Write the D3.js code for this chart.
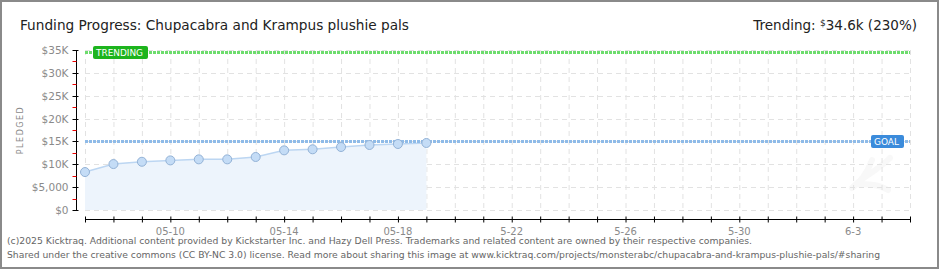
<!DOCTYPE html>
<html>
<head>
<meta charset="utf-8">
<script src="https://cdn.jsdelivr.net/npm/d3@7"></script>
<style>
body { margin:0; background:#fff; }
svg { display:block; }
text { font-family: "DejaVu Sans", sans-serif; }
</style>
</head>
<body>
<svg id="chart" width="940" height="270"></svg>
<script>
// pledge snapshots, one per day
var dates = ['2025-05-07','2025-05-08','2025-05-09','2025-05-10','2025-05-11','2025-05-12','2025-05-13',
	'2025-05-14','2025-05-15','2025-05-16','2025-05-17','2025-05-18','2025-05-19'];
var pledged = [8300, 10050, 10550, 10850, 11080, 11080, 11600, 13050, 13280, 13780, 14220, 14440, 14660];
var goal = 15000;
var trending = 34600;
var yTicks = [0, 5000, 10000, 15000, 20000, 25000, 30000, 35000];
var yTickLabels = ['$0', '$5,000', '$10K', '$15K', '$20K', '$25K', '$30K', '$35K'];
var xLabelDates = ['2025-05-10','2025-05-14','2025-05-18','2025-05-22','2025-05-26','2025-05-30','2025-06-03'];
var xLabels = ['05-10', '05-14', '05-18', '5-22', '5-26', '5-30', '6-3'];
var xStart = '2025-05-07', xEnd = '2025-06-05';

var parse = d3.utcParse('%Y-%m-%d');
var svg = d3.select('#chart');

// frame
svg.append('rect').attr('x', 1).attr('y', 1).attr('width', 937).attr('height', 267)
	.attr('fill', '#fff').attr('stroke', '#8a8a8a').attr('stroke-width', 2);

var x = d3.scaleUtc().domain([parse(xStart), parse(xEnd)]).range([85, 910]);
var y = d3.scaleLinear().domain([0, 35000]).range([210, 50]);

var days = d3.utcDay.range(parse(xStart), d3.utcDay.offset(parse(xEnd), 1));

// watermark (faint K)
svg.append('path').attr('d', 'M872,160 C866,176 858,184 852,188 M890,158 C878,170 862,178 856,184 C866,184 878,184 888,190')
	.attr('fill', 'none').attr('stroke', '#f8f8f8').attr('stroke-width', 6).attr('stroke-linecap', 'round');

// grid
var grid = svg.append('g').attr('stroke', '#e2e2e2').attr('stroke-dasharray', '5,4');
grid.selectAll('.vg').data(days).enter().append('line')
	.attr('x1', function(d){ return x(d) + 0.5; }).attr('x2', function(d){ return x(d) + 0.5; })
	.attr('y1', 50).attr('y2', 210);
grid.selectAll('.hg').data(yTicks).enter().append('line')
	.attr('x1', 85).attr('x2', 910)
	.attr('y1', function(d){ return Math.round(y(d)) + 0.5; }).attr('y2', function(d){ return Math.round(y(d)) + 0.5; });

// area + line
var pts = dates.map(function(d, i){ return { date: parse(d), v: pledged[i] }; });
svg.append('path').datum(pts)
	.attr('fill', '#edf4fc')
	.attr('d', d3.area().x(function(d){ return x(d.date); }).y0(y(0)).y1(function(d){ return y(d.v); }));
svg.append('path').datum(pts)
	.attr('fill', 'none').attr('stroke', '#bcd6f2').attr('stroke-width', 1.5)
	.attr('d', d3.line().x(function(d){ return x(d.date); }).y(function(d){ return y(d.v); }));

// goal and trending lines
function refLine(val, color) {
	svg.append('line').attr('x1', 85).attr('x2', 910)
		.attr('y1', Math.round(y(val)) + 0.5).attr('y2', Math.round(y(val)) + 0.5)
		.attr('stroke', color).attr('stroke-width', 3).attr('stroke-dasharray', '3,1');
}
refLine(goal, '#8fbbe8');
refLine(trending, '#6ddc6d');

// points
svg.selectAll('.pt').data(pts).enter().append('circle')
	.attr('cx', function(d){ return x(d.date); }).attr('cy', function(d){ return y(d.v); })
	.attr('r', 4.5).attr('fill', '#c4dcf6').attr('stroke', '#93b2d6').attr('stroke-width', 1);

// badges
function badge(bx, val, w, label, color) {
	var by = Math.round(y(val)) - 6;
	svg.append('rect').attr('x', bx).attr('y', by).attr('width', w).attr('height', 13)
		.attr('rx', 2).attr('fill', color);
	svg.append('text').attr('x', bx + 3).attr('y', by + 10).attr('fill', '#fff')
		.attr('font-size', 8.5).attr('textLength', w - 8).attr('lengthAdjust', 'spacingAndGlyphs')
		.text(label);
}
badge(93, trending, 55, 'TRENDING', '#1db41d');
badge(871, goal, 33, 'GOAL', '#3b8bdb');

// y axis
var yAxis = svg.append('g').attr('transform', 'translate(76.5,0)');
yAxis.append('line').attr('y1', 50).attr('y2', 211).attr('stroke', '#000');
var minor = d3.range(2500, 35000, 5000);
yAxis.selectAll('.mn').data(minor).enter().append('line')
	.attr('x1', -4).attr('x2', 0)
	.attr('y1', function(d){ return Math.round(y(d)) + 0.5; }).attr('y2', function(d){ return Math.round(y(d)) + 0.5; })
	.attr('stroke', '#e00');
yAxis.selectAll('.mj').data(yTicks).enter().append('line')
	.attr('x1', -4).attr('x2', 2)
	.attr('y1', function(d){ return Math.round(y(d)) + 0.5; }).attr('y2', function(d){ return Math.round(y(d)) + 0.5; })
	.attr('stroke', '#000');
yAxis.selectAll('.yl').data(yTicks).enter().append('text')
	.attr('x', -8).attr('y', function(d){ return y(d) + 4; })
	.attr('text-anchor', 'end').attr('fill', '#8a8a8a').attr('font-size', 10.5)
	.text(function(d, i){ return yTickLabels[i]; });

svg.append('text').attr('transform', 'translate(23,130) rotate(-90)')
	.attr('text-anchor', 'middle').attr('fill', '#8a8a8a').attr('font-size', 8)
	.attr('letter-spacing', 1.5).text('PLEDGED');

// x axis
var xAxis = svg.append('g').attr('transform', 'translate(0,219.5)');
xAxis.append('line').attr('x1', 85).attr('x2', 910.5).attr('stroke', '#000');
xAxis.selectAll('.xt').data(days).enter().append('line')
	.attr('x1', function(d){ return x(d) + 0.5; }).attr('x2', function(d){ return x(d) + 0.5; })
	.attr('y1', -3).attr('y2', 3).attr('stroke', '#000');
xAxis.selectAll('.xl').data(xLabelDates).enter().append('text')
	.attr('x', function(d){ return x(parse(d)); }).attr('y', 15)
	.attr('text-anchor', 'middle').attr('fill', '#8a8a8a').attr('font-size', 10)
	.text(function(d, i){ return xLabels[i]; });

// titles
svg.append('text').attr('x', 20).attr('y', 30).attr('font-size', 14.5).attr('fill', '#222')
	.attr('textLength', 389).attr('lengthAdjust', 'spacingAndGlyphs')
	.text('Funding Progress: Chupacabra and Krampus plushie pals');
var tr = svg.append('text').attr('x', 917).attr('y', 30).attr('text-anchor', 'end')
	.attr('font-size', 13.5).attr('fill', '#222');
tr.append('tspan').text('Trending: ');
tr.append('tspan').attr('font-size', 9).attr('dy', -4).text('$');
tr.append('tspan').attr('dy', 4).text('34.6k (230%)');

// footer
var foot = svg.append('g').attr('fill', '#666').attr('font-size', 9.5);
foot.append('text').attr('x', 7).attr('y', 244)
	.attr('textLength', 745).attr('lengthAdjust', 'spacingAndGlyphs')
	.text('(c)2025 Kicktraq. Additional content provided by Kickstarter Inc. and Hazy Dell Press. Trademarks and related content are owned by their respective companies.');
foot.append('text').attr('x', 7).attr('y', 258)
	.attr('textLength', 873).attr('lengthAdjust', 'spacingAndGlyphs')
	.text('Shared under the creative commons (CC BY-NC 3.0) license. Read more about sharing this image at www.kicktraq.com/projects/monsterabc/chupacabra-and-krampus-plushie-pals/#sharing');
</script>
</body>
</html>
